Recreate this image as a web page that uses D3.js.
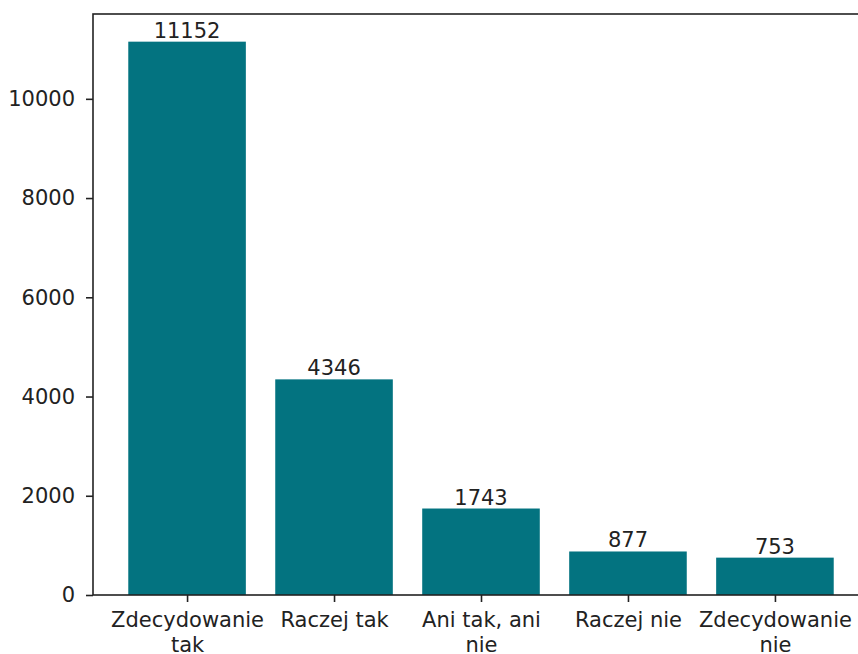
<!DOCTYPE html>
<html>
<head>
<meta charset="utf-8">
<script src="https://cdn.jsdelivr.net/npm/d3@7"></script>
<style>
  body { margin: 0; background: #fff; }
  svg { display: block; font-family: "DejaVu Sans", sans-serif; }
</style>
</head>
<body>
<div id="chart"></div>
<script>
// answer categories (wrapped the way the picture shows them)
const categories = [
    ["Zdecydowanie", "tak"],
    ["Raczej tak"],
    ["Ani tak, ani", "nie"],
    ["Raczej nie"],
    ["Zdecydowanie", "nie"]
];
const counts = [11152, 4346, 1743, 877, 753];
const yTicks = [0, 2000, 4000, 6000, 8000, 10000];

const width = 858;
const height = 654;
// the axes box runs a little past the right edge of the picture
const margin = { top: 14, left: 93 };
const plotW = 776;
const plotH = 581;
const fontSize = 21;

const svg = d3.select("#chart")
    .append("svg")
    .attr("width", width)
    .attr("height", height);

const g = svg.append("g")
    .attr("transform", `translate(${margin.left},${margin.top})`);

// matplotlib-like limits: bars at 0..4, width 0.8, 5% margins
const xScale = d3.scaleLinear()
    .domain([-0.64, 4.64])
    .range([0, plotW]);

const yScale = d3.scaleLinear()
    .domain([0, d3.max(counts) * 1.05])
    .range([plotH, 0]);

const barW = xScale(0.8) - xScale(0);

// bars
g.selectAll(".bar")
    .data(counts)
    .enter().append("rect")
    .attr("class", "bar")
    .attr("x", (d, i) => xScale(i) - barW / 2)
    .attr("y", d => yScale(d))
    .attr("width", barW)
    .attr("height", d => plotH - yScale(d))
    .attr("fill", "#037380");

// value labels on top of bars
g.selectAll(".val")
    .data(counts)
    .enter().append("text")
    .attr("class", "val")
    .attr("x", (d, i) => xScale(i))
    .attr("y", d => yScale(d) - 4)
    .attr("text-anchor", "middle")
    .attr("font-size", fontSize)
    .attr("fill", "#222")
    .text(d => d);

// y axis
const yAxis = d3.axisLeft(yScale)
    .tickValues(yTicks)
    .tickSize(7)
    .tickPadding(11)
    .tickFormat(d3.format("d"));

const yG = g.append("g").call(yAxis);
yG.select(".domain").remove();
yG.selectAll("line").attr("stroke", "#222").attr("stroke-width", 1.6);
yG.selectAll("text").attr("font-size", fontSize).attr("fill", "#222")
    .attr("font-family", "DejaVu Sans, sans-serif");

// x axis
const xAxis = d3.axisBottom(xScale)
    .tickValues(d3.range(categories.length))
    .tickSize(7)
    .tickFormat("");

const xG = g.append("g")
    .attr("transform", `translate(0,${plotH})`)
    .call(xAxis);
xG.select(".domain").remove();
xG.selectAll("line").attr("stroke", "#222").attr("stroke-width", 1.6);

// multi-line category labels
xG.selectAll(".tick")
    .append("text")
    .attr("fill", "#222")
    .attr("font-size", fontSize)
    .attr("font-family", "DejaVu Sans, sans-serif")
    .attr("text-anchor", "middle")
    .each(function(d) {
        const t = d3.select(this);
        categories[d].forEach((line, k) => {
            t.append("tspan")
                .attr("x", 0)
                .attr("y", 32 + k * 24.5)
                .text(line);
        });
    });

// spines
g.append("rect")
    .attr("x", 0)
    .attr("y", 0)
    .attr("width", plotW)
    .attr("height", plotH)
    .attr("fill", "none")
    .attr("stroke", "#222")
    .attr("stroke-width", 1.6);
</script>
</body>
</html>
